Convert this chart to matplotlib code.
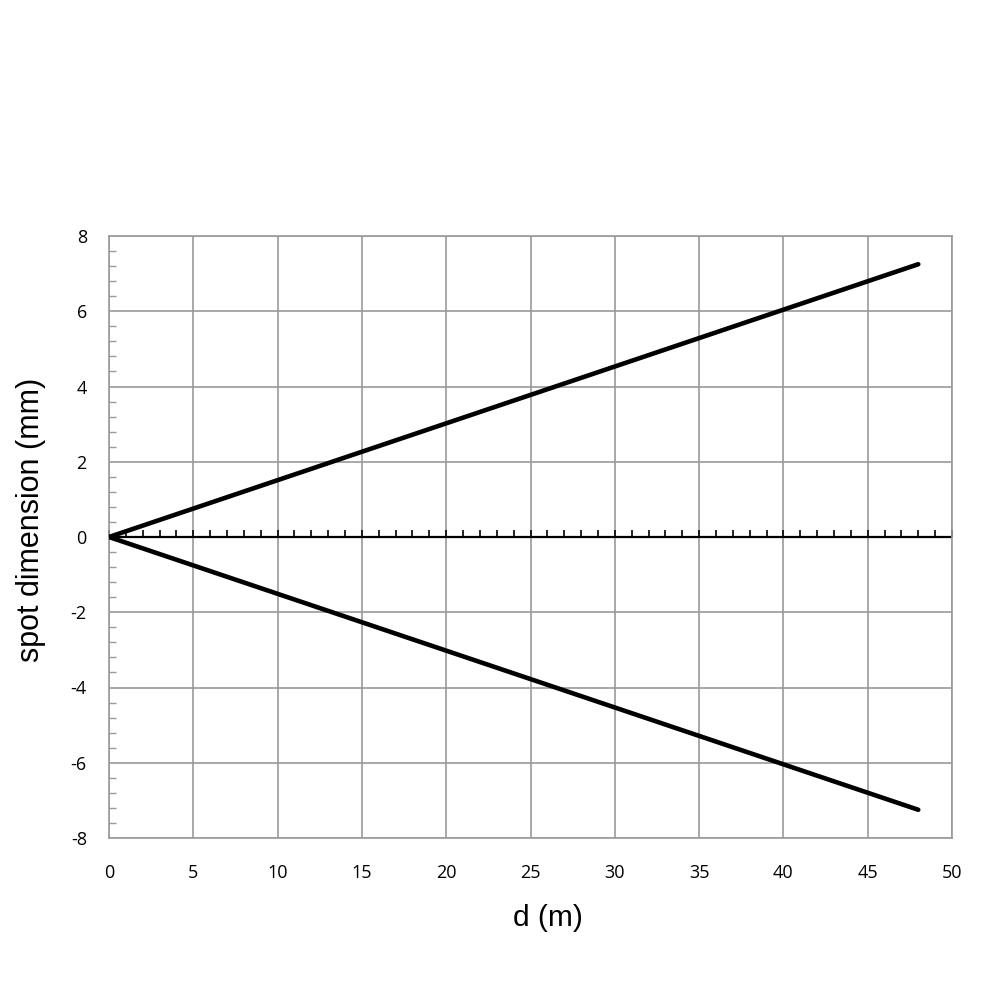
import matplotlib
matplotlib.use("Agg")
import matplotlib.pyplot as plt
from matplotlib.ticker import MultipleLocator
import numpy as np

plt.rcParams["axes.unicode_minus"] = False

d = [0, 48]
upper = [0, 7.25]
lower = [0, -7.25]
x_ticks = [0, 5, 10, 15, 20, 25, 30, 35, 40, 45, 50]
y_ticks = [-8, -6, -4, -2, 0, 2, 4, 6, 8]

fig = plt.figure(figsize=(10, 10), dpi=100)
ax = fig.add_axes([0.109, 0.162, 0.843, 0.602])

grid_c = "#9a9a9a"
ax.set_xlim(0, 50)
ax.set_ylim(-8, 8)
ax.set_xticks(x_ticks)
ax.set_yticks(y_ticks)
ax.grid(True, color=grid_c, linewidth=1.2, zorder=0)
for s in ax.spines.values():
    s.set_color(grid_c)
    s.set_linewidth(1.2)

ax.yaxis.set_minor_locator(MultipleLocator(0.4))
ax.tick_params(axis="y", which="minor", direction="in", length=5, color=grid_c, width=1.0)
ax.tick_params(axis="both", which="major", length=0)
ax.tick_params(axis="x", pad=19)
ax.tick_params(axis="y", pad=16)
for lab in ax.get_xticklabels() + ax.get_yticklabels():
    lab.set_fontfamily("Open Sans")
    lab.set_fontsize(13)

# zero axis with upward ticks
ax.axhline(0, color="black", linewidth=1.6, zorder=2)
tx = np.arange(0, 51, 1)
ax.plot(tx, np.zeros_like(tx), linestyle="none", marker=2, markersize=5,
        markeredgewidth=1.2, color="black", zorder=2, clip_on=False)

ax.plot(d, upper, color="black", linewidth=3.3, solid_capstyle="round", zorder=3)
ax.plot(d, lower, color="black", linewidth=3.3, solid_capstyle="round", zorder=3)

ax.set_xlabel("d (m)", fontfamily="Liberation Sans", fontsize=21.5)
ax.set_ylabel("spot dimension (mm)", fontfamily="Liberation Sans", fontsize=22)
ax.xaxis.set_label_coords((547.5 - 109) / 843, (838 - 918) / 602)
ax.yaxis.set_label_coords((31 - 109) / 843, (838 - 520) / 602)
ax.xaxis.label.set_verticalalignment("center")
ax.yaxis.label.set_verticalalignment("center")

fig.savefig("out.png", dpi=100)
